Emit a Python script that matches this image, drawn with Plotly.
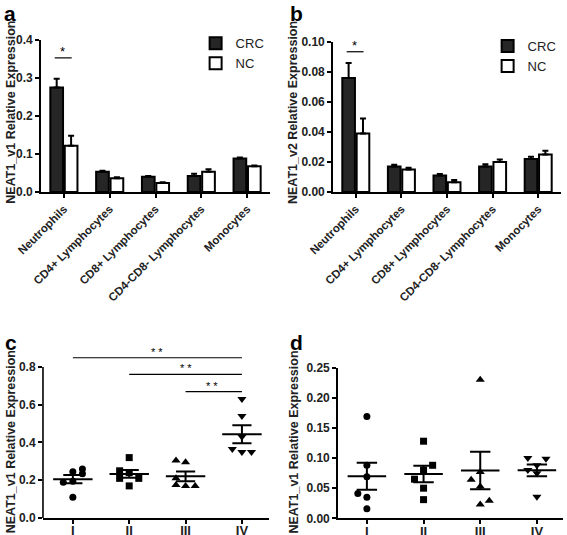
import numpy as np
import plotly.graph_objects as go

# ---------------- data ----------------
cells = ["Neutrophils", "CD4+ Lymphocytes", "CD8+ Lymphocytes", "CD4-CD8- Lymphocytes", "Monocytes"]

a_crc = [0.275, 0.053, 0.040, 0.042, 0.088]
a_crc_sem = [0.023, 0.003, 0.002, 0.006, 0.003]
a_nc = [0.122, 0.036, 0.024, 0.053, 0.068]
a_nc_sem = [0.026, 0.003, 0.002, 0.007, 0.002]

b_crc = [0.076, 0.017, 0.011, 0.017, 0.022]
b_crc_sem = [0.010, 0.0012, 0.001, 0.0015, 0.0015]
b_nc = [0.039, 0.015, 0.0065, 0.020, 0.025]
b_nc_sem = [0.010, 0.0012, 0.0015, 0.0017, 0.0025]

stages = ["I", "II", "III", "IV"]
c_I = [0.26, 0.245, 0.235, 0.19, 0.195, 0.11]
c_II = [0.32, 0.25, 0.24, 0.21, 0.21, 0.17]
c_III = [0.305, 0.295, 0.21, 0.175, 0.17, 0.17]
c_IV = [0.63, 0.54, 0.43, 0.365, 0.35, 0.35]

d_I = [0.169, 0.088, 0.069, 0.041, 0.035, 0.016]
d_II = [0.128, 0.088, 0.080, 0.065, 0.050, 0.031]
d_III = [0.230, 0.077, 0.064, 0.053, 0.023, 0.029]
d_IV = [0.100, 0.099, 0.080, 0.088, 0.075, 0.036]

# horizontal spread of points within a column (layout only)
c_jitter = [[0.17, 0, 0.17, -0.17, 0, 0], [0, -0.17, 0, 0.17, -0.17, 0],
            [-0.17, 0, -0.17, -0.17, 0, 0.17], [0, 0, 0, -0.17, 0, 0.17]]
d_jitter = [[0, 0, 0, -0.16, 0, 0], [0, 0.16, 0, -0.16, 0, 0],
            [0, 0, -0.16, 0, 0, 0.16], [-0.16, 0.16, -0.16, 0, 0, 0]]

FONT = "Liberation Sans, Arial, sans-serif"
DARK = "#262626"
TXT = "#222222"

fig = go.Figure()

# ---------------- bar panels ----------------
def add_bars(xa, ya, crc, crc_sem, nc, nc_sem, legend):
    fig.add_trace(go.Bar(x=cells, y=crc, name="CRC", xaxis=xa, yaxis=ya,
                         marker=dict(color=DARK, line=dict(color="black", width=2)),
                         error_y=dict(type="data", symmetric=False, array=crc_sem,
                                      arrayminus=[0] * len(crc), color="black", thickness=2, width=3),
                         legend=legend, offsetgroup="crc"))
    fig.add_trace(go.Bar(x=cells, y=nc, name="NC", xaxis=xa, yaxis=ya,
                         marker=dict(color="white", line=dict(color="black", width=2)),
                         error_y=dict(type="data", symmetric=False, array=nc_sem,
                                      arrayminus=[0] * len(nc), color="black", thickness=2, width=3),
                         legend=legend, offsetgroup="nc"))

add_bars("x", "y", a_crc, a_crc_sem, a_nc, a_nc_sem, "legend")
add_bars("x2", "y2", b_crc, b_crc_sem, b_nc, b_nc_sem, "legend2")

# ---------------- scatter panels ----------------
symbols = ["circle", "square", "triangle-up", "triangle-down"]

def add_scatter(xa, ya, groups, jit, mean_hw, sem_hw):
    for i, (vals, j) in enumerate(zip(groups, jit)):
        fig.add_trace(go.Scatter(x=[i + o for o in j], y=vals, mode="markers", xaxis=xa, yaxis=ya,
                                 marker=dict(symbol=symbols[i], color="black",
                                             size=8 if "triangle" in symbols[i] else 7),
                                 showlegend=False, cliponaxis=False))
        v = np.array(vals)
        m = v.mean()
        s = v.std(ddof=1) / np.sqrt(len(v))
        xs = [i - mean_hw, i + mean_hw, None, i - sem_hw, i + sem_hw, None,
              i - sem_hw, i + sem_hw, None, i, i]
        ys = [m, m, None, m + s, m + s, None, m - s, m - s, None, m + s, m - s]
        fig.add_trace(go.Scatter(x=xs, y=ys, mode="lines", xaxis=xa, yaxis=ya,
                                 line=dict(color="black", width=2), showlegend=False))

add_scatter("x3", "y3", [c_I, c_II, c_III, c_IV], c_jitter, 0.35, 0.17)
add_scatter("x4", "y4", [d_I, d_II, d_III, d_IV], d_jitter, 0.34, 0.18)

# ---------------- axes ----------------
tick_font = dict(family=FONT, size=12, color=TXT, weight="bold")
cat_font = dict(family=FONT, size=11.5, color=TXT, weight="bold")
common = dict(showgrid=False, zeroline=False, showline=True, linecolor="black", linewidth=1.6,
              ticks="outside", ticklen=4, tickwidth=1.6, tickcolor="black", tickfont=tick_font,
              automargin=False)
roman_font = dict(family=FONT, size=13, color=TXT, weight="bold")
roman = {**common, "tickfont": roman_font, "ticklabelstandoff": -4}
catax = {**common, "tickfont": cat_font}

fig.update_layout(
    template="none",
    width=567, height=535, margin=dict(l=0, r=0, t=0, b=0, autoexpand=False),
    paper_bgcolor="white", plot_bgcolor="white",
    barmode="group", bargap=0.37, bargroupgap=0.12,
    font=dict(family=FONT, color=TXT),
    xaxis=dict(domain=[0.0723, 0.4762], anchor="y", range=[-0.5, 4.5], tickangle=-45, **catax),
    yaxis=dict(domain=[0.6411, 0.9252], anchor="x", range=[0, 0.4], tickvals=[0, 0.1, 0.2, 0.3, 0.4],
               tickformat=".1f", **common),
    xaxis2=dict(domain=[0.5873, 0.9894], anchor="y2", range=[-0.5, 4.5], tickangle=-45, **catax),
    yaxis2=dict(domain=[0.6411, 0.9215], anchor="x2", range=[0, 0.10],
                tickvals=[0, 0.02, 0.04, 0.06, 0.08, 0.10], tickformat=".2f", **common),
    xaxis3=dict(domain=[0.0758, 0.4744], anchor="y3", range=[-0.53, 3.48],
                tickvals=[0, 1, 2, 3], ticktext=stages, **roman),
    yaxis3=dict(domain=[0.0318, 0.3387], anchor="x3", range=[0, 0.87],
                tickvals=[0, 0.2, 0.4, 0.6, 0.8], tickformat=".1f", **{**common, "showline": False}),
    xaxis4=dict(domain=[0.5961, 0.9929], anchor="y4", range=[-0.51, 3.46],
                tickvals=[0, 1, 2, 3], ticktext=stages, **roman),
    yaxis4=dict(domain=[0.0312, 0.3127], anchor="x4", range=[0, 0.25],
                tickvals=[0, 0.05, 0.10, 0.15, 0.20, 0.25], tickformat=".2f", **common),
    legend=dict(x=0.345, y=0.947, xanchor="left", yanchor="top", bgcolor="rgba(0,0,0,0)",
                font=dict(family=FONT, size=13, color=TXT), itemwidth=30, tracegroupgap=0),
    legend2=dict(x=0.86, y=0.942, xanchor="left", yanchor="top", bgcolor="rgba(0,0,0,0)",
                 font=dict(family=FONT, size=13, color=TXT), itemwidth=30, tracegroupgap=0),
)

# y-axis line of panel c only up to 0.8
fig.add_shape(type="line", xref="x3 domain", yref="y3", x0=0, x1=0, y0=0, y1=0.8,
              line=dict(color="black", width=1.6))

# significance marks
fig.add_shape(type="line", xref="x", yref="y", x0=-0.2, x1=0.17, y0=0.353, y1=0.353,
              line=dict(color="black", width=1.2))
fig.add_annotation(x=-0.02, y=0.353, xref="x", yref="y", text="*", showarrow=False,
                   yanchor="bottom", yshift=-3, font=dict(size=13, color="black"))
fig.add_shape(type="line", xref="x2", yref="y2", x0=-0.2, x1=0.17, y0=0.0935, y1=0.0935,
              line=dict(color="black", width=1.2))
fig.add_annotation(x=-0.02, y=0.0935, xref="x2", yref="y2", text="*", showarrow=False,
                   yanchor="bottom", yshift=-3, font=dict(size=13, color="black"))
for x0, yv in [(0, 0.849), (1, 0.761), (2, 0.67)]:
    fig.add_shape(type="line", xref="x3", yref="y3", x0=x0, x1=3, y0=yv, y1=yv,
                  line=dict(color="black", width=1.2))
    fig.add_annotation(x=(x0 + 3) / 2 if x0 < 2 else 2.47, y=yv, xref="x3", yref="y3", text="* *",
                       showarrow=False, yanchor="bottom", yshift=-2, font=dict(size=11, color="black"))

# panel letters
for t, x, y in [("a", 0.004, 1.0), ("b", 0.508, 1.0), ("c", 0.006, 0.385), ("d", 0.508, 0.385)]:
    fig.add_annotation(x=x, y=y, xref="paper", yref="paper", text=f"<b>{t}</b>", showarrow=False,
                       xanchor="left", yanchor="top", font=dict(family=FONT, size=21, color="black"))

# y titles
ytitle_font = dict(family=FONT, size=12.5, color=TXT)
for t, x, y in [("NEAT1_v1 Relative Expression", 0.020, 0.79),
                ("NEAT1_v2 Relative Expression", 0.518, 0.79),
                ("NEAT1_v1 Relative Expression", 0.020, 0.174),
                ("NEAT1_v1 Relative Expression", 0.518, 0.174)]:
    fig.add_annotation(x=x, y=y, xref="paper", yref="paper", text=f"<b>{t}</b>", showarrow=False,
                       textangle=-90, xanchor="center", yanchor="middle", font=ytitle_font)

fig.write_html("out.html", config={"displayModeBar": False},
               post_script="document.body.style.margin='0';document.body.style.overflow='hidden';")
